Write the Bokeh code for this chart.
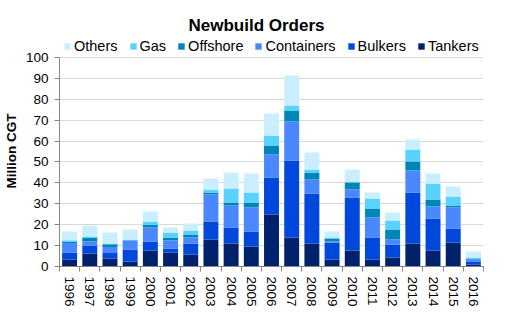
from bokeh.plotting import figure
from bokeh.models import Range1d, FixedTicker, Legend, LegendItem, ColumnDataSource, Title
from bokeh.embed import file_html
from bokeh.resources import INLINE

years = ["1996", "1997", "1998", "1999", "2000", "2001", "2002", "2003", "2004", "2005",
         "2006", "2007", "2008", "2009", "2010", "2011", "2012", "2013", "2014", "2015", "2016"]
tankers    = [3.3, 6.2, 3.8, 2.4, 7.7, 6.7, 5.7, 12.9, 11.0, 9.6, 24.9, 13.9, 11.0, 3.3, 7.7, 3.3, 4.3, 11.0, 7.7, 11.5, 1.0]
bulkers    = [3.4, 3.8, 2.6, 5.7, 4.3, 1.9, 5.3, 8.6, 7.7, 7.1, 17.7, 36.8, 23.9, 8.2, 25.3, 10.6, 6.2, 24.4, 15.3, 6.7, 1.4]
containers = [4.5, 2.0, 2.9, 4.2, 6.8, 3.8, 2.9, 12.9, 10.5, 11.5, 11.0, 18.7, 6.7, 0.5, 3.8, 9.5, 2.4, 10.5, 5.7, 10.0, 0.9]
offshore   = [0.5, 1.6, 1.4, 0.3, 1.0, 1.5, 1.4, 1.0, 1.4, 2.4, 4.3, 5.2, 3.4, 1.4, 3.4, 4.4, 4.8, 4.3, 3.4, 1.0, 0.5]
gas        = [0.8, 0.8, 0.3, 0.3, 1.7, 2.4, 1.9, 1.4, 6.7, 4.8, 4.8, 2.4, 1.4, 0.5, 0.5, 4.7, 4.3, 5.8, 7.6, 4.3, 0.5]
others     = [4.3, 5.2, 5.3, 4.8, 4.8, 2.4, 3.4, 5.3, 7.7, 9.1, 10.5, 14.4, 8.1, 2.8, 5.7, 2.9, 3.8, 4.8, 4.8, 4.8, 2.9]

series = ["Tankers", "Bulkers", "Containers", "Offshore", "Gas", "Others"]
colors = ["#00226C", "#0047DB", "#4B88FF", "#0085B8", "#5AD2FF", "#C9EFFF"]
y_ticks = [0, 10, 20, 30, 40, 50, 60, 70, 80, 90, 100]

FONT = "Liberation Sans"
n = len(years)
xs = list(range(n))

src = ColumnDataSource(dict(x=xs, Tankers=tankers, Bulkers=bulkers, Containers=containers,
                            Offshore=offshore, Gas=gas, Others=others))

# the frame extends above 100 to leave room for the legend (axis/grid bounded to 0..100)
p = figure(width=509, height=323,
           x_range=Range1d(-0.5, n - 0.5), y_range=Range1d(0, 110.5),
           output_backend="svg", toolbar_location=None,
           min_border_left=59, min_border_right=26, min_border_top=35, min_border_bottom=57)

rs = p.vbar_stack(series, x="x", width=0.74, source=src,
                  fill_color=colors, line_color=None)

p.title = Title(text="Newbuild Orders", align="left", text_font=FONT,
                text_font_size="17px", text_font_style="bold", text_color="#000000",
                offset=129, standoff=2)

items = [LegendItem(label=s, renderers=[r]) for s, r in zip(series, rs)][::-1]
legend = Legend(items=items, orientation="horizontal", location=(4, 212),
                label_text_font=FONT, label_text_font_size="14.5px", label_text_color="#000000",
                glyph_width=8, glyph_height=8, label_standoff=3, spacing=11,
                padding=0, margin=0, border_line_color=None, background_fill_alpha=0,
                label_height=12)
p.add_layout(legend, "center")

# axes
p.xaxis.ticker = FixedTicker(ticks=xs, minor_ticks=[i - 0.5 for i in range(n + 1)])
p.xaxis.major_label_overrides = {i: y for i, y in enumerate(years)}
p.xaxis.major_label_orientation = "vertical"
p.xaxis.major_tick_line_color = None
p.xaxis.minor_tick_line_color = "#868686"
p.xaxis.minor_tick_out = 5
p.xaxis.minor_tick_in = 0
p.xaxis.axis_line_color = "#868686"
p.xaxis.major_label_text_font = FONT
p.xaxis.major_label_text_font_size = "13.5px"
p.xaxis.major_label_text_color = "#000000"
p.xaxis.major_label_standoff = 4

p.yaxis.ticker = FixedTicker(ticks=y_ticks)
p.yaxis.bounds = (0, 100)
p.yaxis.axis_label = "Million CGT"
p.yaxis.axis_label_text_font = FONT
p.yaxis.axis_label_text_font_size = "13.5px"
p.yaxis.axis_label_text_font_style = "bold"
p.yaxis.axis_label_text_color = "#000000"
p.yaxis.axis_label_standoff = 4
p.yaxis.major_label_text_font = FONT
p.yaxis.major_label_text_font_size = "13.5px"
p.yaxis.major_label_text_color = "#000000"
p.yaxis.major_tick_line_color = "#868686"
p.yaxis.major_tick_out = 5
p.yaxis.major_tick_in = 0
p.yaxis.minor_tick_line_color = None
p.yaxis.axis_line_color = "#868686"
p.yaxis.major_label_standoff = 6

p.xgrid.grid_line_color = None
p.ygrid.grid_line_color = "#D9D9D9"
p.ygrid.ticker = FixedTicker(ticks=y_ticks)
p.outline_line_color = None
p.background_fill_color = "white"
p.border_fill_color = "white"

open("out.html", "w").write(file_html(p, INLINE))
